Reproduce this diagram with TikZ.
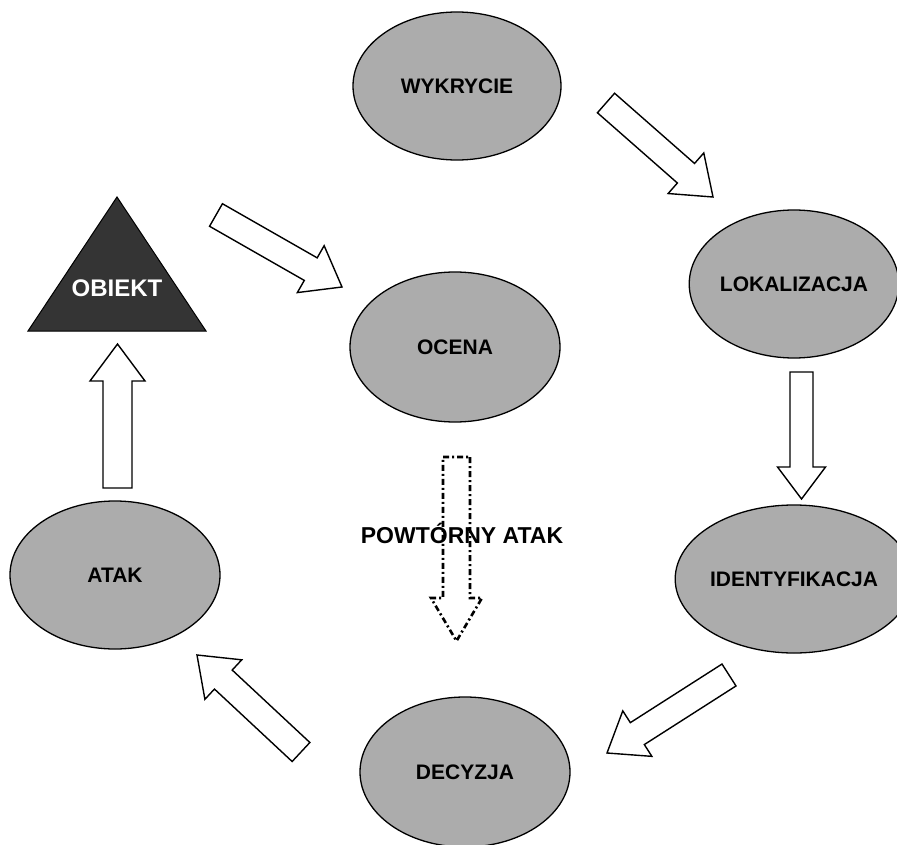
\documentclass[tikz,border=0pt]{standalone}
\usepackage{fontspec}
\setmainfont{Liberation Sans}
\usetikzlibrary{shapes.geometric,calc}
\definecolor{ellfill}{RGB}{172,172,172}
\definecolor{trifill}{RGB}{52,52,52}
\tikzset{
  phase/.style={ellipse,draw=black,line width=1.3pt,fill=ellfill,inner sep=0pt,
    font=\fontsize{21}{25}\selectfont\bfseries},
  blockarrow/.style={draw=black,fill=white,line width=1.4pt,line join=miter},
  dasharrow/.style={draw=black,line width=2.6pt,dash pattern=on 6pt off 3pt on 2pt off 3pt},
  lbl/.style={font=\fontsize{23}{27}\selectfont\bfseries,inner sep=0pt}
}
% #1 options, #2 from, #3 to, #4 shaft half width, #5 head half width, #6 head length
\newcommand\blockarr[6][]{%
  \coordinate (#2-hb) at ($(#3)!#6!(#2)$);
  \path[blockarrow,#1] ($(#2)!#4!90:(#3)$) -- ($(#2-hb)!#4!90:(#3)$) --
    ($(#2-hb)!#5!90:(#3)$) -- (#3) -- ($(#2-hb)!#5!-90:(#3)$) --
    ($(#2-hb)!#4!-90:(#3)$) -- ($(#2)!#4!-90:(#3)$) -- cycle;
}
\begin{document}
\begin{tikzpicture}[x=1pt,y=1pt]
\useasboundingbox[fill=white] (0,0) rectangle (897,-845);

% phases
\node[phase,minimum width=208pt,minimum height=148pt] (wyk) at (457,-86) {WYKRYCIE};
\node[phase,minimum width=204pt,minimum height=148pt] (lok) at (794,-284) {LOKALIZACJA};
\node[phase,minimum width=204pt,minimum height=148pt] (ide) at (794,-579) {IDENTYFIKACJA};
\node[phase,minimum width=210pt,minimum height=150pt] (dec) at (465,-772) {DECYZJA};
\node[phase,minimum width=210pt,minimum height=148pt] (atak) at (115,-575) {ATAK};
\node[phase,minimum width=210pt,minimum height=150pt] (oc) at (455,-347) {OCENA};

% object triangle
\fill[trifill] (117,-197) -- (206,-331) -- (28,-331) -- cycle;
\draw[black,line width=1pt] (117,-197) -- (206,-331) -- (28,-331) -- cycle;
\node[font=\fontsize{24}{28}\selectfont\bfseries,text=white,inner sep=0pt] (obiekt) at (117,-288) {OBIEKT};

% arrow end points
\coordinate (a1s) at (216,-215);  \coordinate (a1e) at (342,-287);
\coordinate (a2s) at (606,-103);  \coordinate (a2e) at (713,-197);
\coordinate (a3s) at (801.5,-372); \coordinate (a3e) at (801.5,-499);
\coordinate (a4s) at (729,-675);  \coordinate (a4e) at (607,-753);
\coordinate (a5s) at (301,-752);  \coordinate (a5e) at (197,-655);
\coordinate (a6s) at (117.5,-488); \coordinate (a6e) at (117.5,-344);
\coordinate (a7s) at (456.5,-457); \coordinate (a7e) at (456.5,-641);

\blockarr{a1s}{a1e}{13pt}{27pt}{36pt}
\blockarr{a2s}{a2e}{13pt}{27pt}{36pt}
\blockarr{a3s}{a3e}{11.5pt}{24pt}{32pt}
\blockarr{a4s}{a4e}{13pt}{27pt}{36pt}
\blockarr{a5s}{a5e}{13pt}{27pt}{36pt}
\blockarr{a6s}{a6e}{14.5pt}{27.5pt}{37pt}

% repeated attack
\node[lbl] (powt) at (462,-533) {POWTÓRNY ATAK};
\coordinate (a7s-hb) at ($(a7e)!43pt!(a7s)$);
\draw[dasharrow] ($(a7s)!13.5pt!90:(a7e)$) -- ($(a7s-hb)!13.5pt!90:(a7e)$) --
    ($(a7s-hb)!25.5pt!90:(a7e)$) -- (a7e) -- ($(a7s-hb)!25.5pt!-90:(a7e)$) --
    ($(a7s-hb)!13.5pt!-90:(a7e)$) -- ($(a7s)!13.5pt!-90:(a7e)$) -- cycle;
\end{tikzpicture}
\end{document}
